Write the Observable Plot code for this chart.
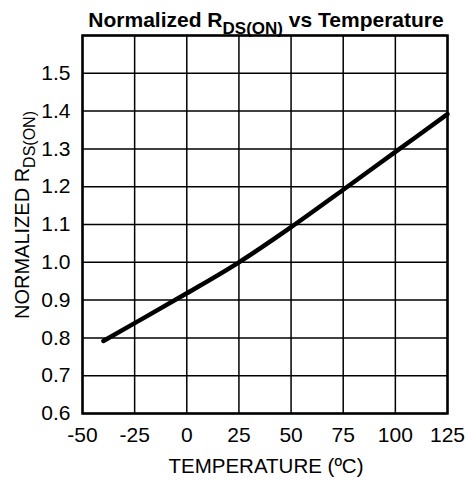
<!DOCTYPE html>
<html>
<head>
<meta charset="utf-8">
<script src="https://cdn.jsdelivr.net/npm/d3@7"></script>
<script src="https://cdn.jsdelivr.net/npm/@observablehq/plot@0.6"></script>
<style>
  html, body { margin: 0; padding: 0; background: #fff; }
  svg { font-family: "Liberation Sans", Arial, sans-serif; }
  g[aria-label="x-axis tick label"] text, g[aria-label="y-axis tick label"] text { font-size: 21px !important; }
</style>
</head>
<body>
<div id="chart"></div>
<script>
const temperature = [-40, -25, 0, 25, 50, 75, 100, 125];
const normalizedRds = [0.792, 0.839, 0.918, 1.0, 1.093, 1.192, 1.292, 1.392];
const xTicks = [-50, -25, 0, 25, 50, 75, 100, 125];
const yTickLabels = [0.6, 0.7, 0.8, 0.9, 1.0, 1.1, 1.2, 1.3, 1.4, 1.5];
const yGrid = [0.6, 0.7, 0.8, 0.9, 1.0, 1.1, 1.2, 1.3, 1.4, 1.5, 1.6];

const data = temperature.map((t, i) => ({t, r: normalizedRds[i]}));

const W = 469, H = 485;
const mL = 82, mR = 22, mT = 35, mB = 72;

const chart = Plot.plot({
  width: W,
  height: H,
  marginLeft: mL,
  marginRight: mR,
  marginTop: mT,
  marginBottom: mB,
  style: {fontFamily: '"Liberation Sans", Arial, sans-serif', fontSize: "21px", color: "black", background: "white"},
  x: {domain: [-50, 125], label: null},
  y: {domain: [0.6, 1.6], label: null},
  marks: [
    Plot.gridX(xTicks, {stroke: "black", strokeOpacity: 1, strokeWidth: 1.5}),
    Plot.gridY(yGrid, {stroke: "black", strokeOpacity: 1, strokeWidth: 1.5}),
    Plot.frame({stroke: "black", strokeWidth: 2.5}),
    Plot.axisX({ticks: xTicks, tickFormat: d => String(d), tickSize: 0, tickPadding: 14, fontSize: 21, label: null}),
    Plot.axisY({ticks: yTickLabels, tickFormat: d3.format(".1f"), tickSize: 0, tickPadding: 12, fontSize: 21, label: null}),
    Plot.line(data, {x: "t", y: "r", curve: "monotone-x", stroke: "black", strokeWidth: 4.5})
  ]
});

document.getElementById("chart").appendChild(chart);

const svg = d3.select(chart);
const cx = 266;

// Title
const title = svg.append("text")
  .attr("x", cx)
  .attr("y", 27)
  .attr("text-anchor", "middle")
  .attr("font-weight", "bold")
  .attr("font-size", 21)
  .attr("fill", "black");
title.append("tspan").text("Normalized R");
title.append("tspan").attr("dy", 7).attr("font-size", 17).text("DS(ON)");
title.append("tspan").attr("dy", -7).text(" vs Temperature");

// X label
svg.append("text")
  .attr("x", cx)
  .attr("y", 473)
  .attr("text-anchor", "middle")
  .attr("font-size", 20.5)
  .attr("fill", "black")
  .text("TEMPERATURE (ºC)");

// Y label
const yl = svg.append("text")
  .attr("transform", "translate(29,215) rotate(-90)")
  .attr("text-anchor", "middle")
  .attr("font-size", 20)
  .attr("fill", "black");
yl.append("tspan").text("NORMALIZED R");
yl.append("tspan").attr("dy", 6).attr("font-size", 16).text("DS(ON)");
</script>
</body>
</html>
